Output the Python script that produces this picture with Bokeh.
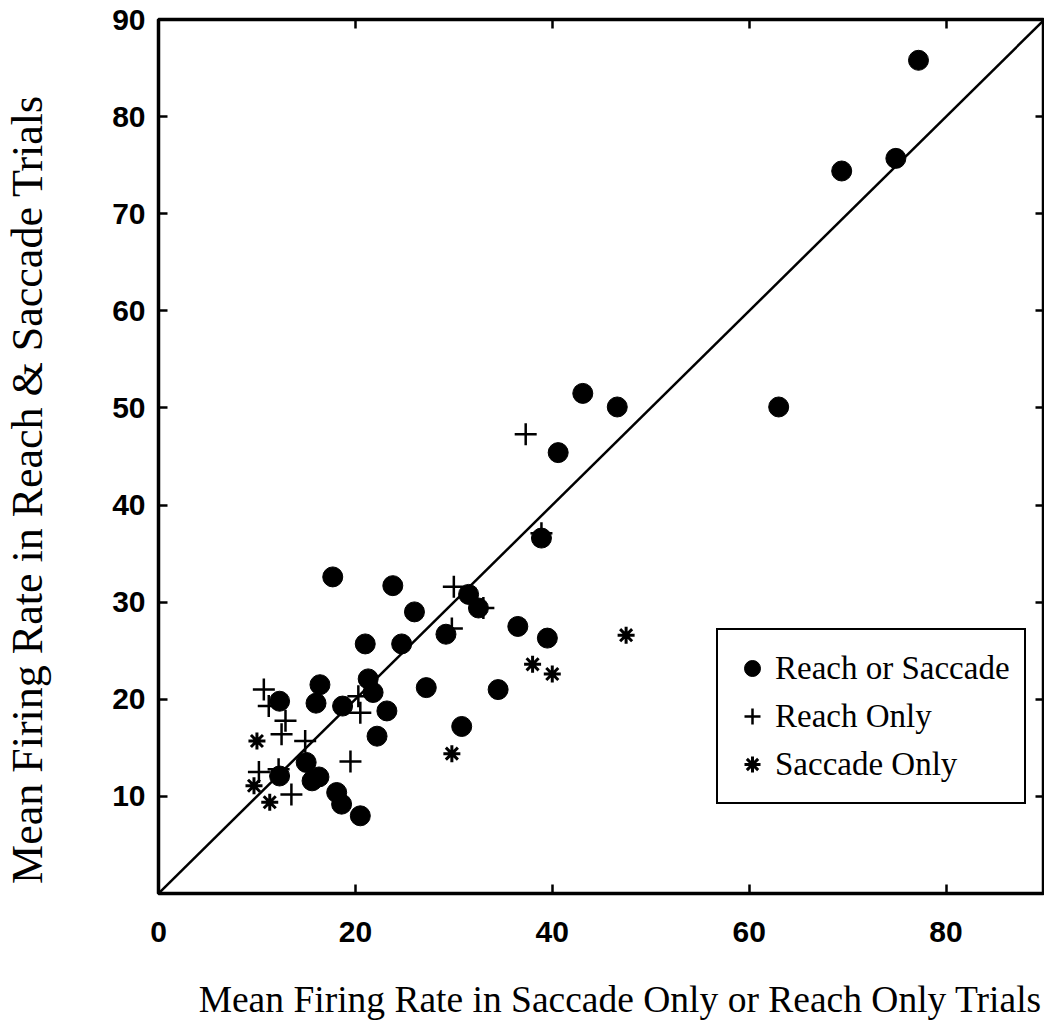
from bokeh.plotting import figure
from bokeh.models import (LinearAxis, FixedTicker, CustomJSTickFormatter, Legend,
                          LegendItem, Range1d)
from bokeh.embed import file_html
from bokeh.resources import INLINE

# ---- data ----
either_x = [77.2, 69.4, 74.9, 63.0, 43.1, 46.6, 40.6, 38.9, 17.7, 23.8, 26.0, 31.5,
            32.5, 29.2, 21.0, 24.7, 21.3, 21.8, 16.4, 16.0, 12.3, 18.7, 23.2, 22.2,
            27.2, 34.5, 30.8, 36.5, 39.5, 15.0, 15.6, 16.3, 12.3, 18.1, 18.6, 20.5]
either_y = [85.8, 74.4, 75.7, 50.1, 51.5, 50.1, 45.4, 36.6, 32.6, 31.7, 29.0, 30.8,
            29.4, 26.7, 25.7, 25.7, 22.1, 20.7, 21.5, 19.6, 19.8, 19.3, 18.8, 16.2,
            21.2, 21.0, 17.2, 27.5, 26.3, 13.5, 11.6, 12.0, 12.1, 10.4, 9.2, 8.0]

reach_x = [37.3, 38.9, 30.0, 33.0, 29.8, 20.3, 20.5, 19.5, 10.7, 11.2, 12.9, 12.5,
           14.9, 10.2, 12.2, 13.5]
reach_y = [47.3, 37.1, 31.6, 29.4, 27.3, 20.3, 18.6, 13.6, 21.0, 19.3, 17.8, 16.4,
           15.7, 12.5, 12.8, 10.2]

sacc_x = [47.5, 38.0, 40.0, 29.8, 10.0, 9.7, 11.3]
sacc_y = [26.6, 23.6, 22.6, 14.4, 15.7, 11.1, 9.4]

unity = [0, 90]
x_ticks = [0, 20, 40, 60, 80]
y_ticks = [10, 20, 30, 40, 50, 60, 70, 80, 90]

series_labels = ["Reach or Saccade", "Reach Only", "Saccade Only"]
x_label = "Mean Firing Rate in Saccade Only or Reach Only Trials"
y_label = "Mean Firing Rate in Reach & Saccade Trials"

NBSP = "\u00a0"

# ---- figure ----
p = figure(frame_width=886, frame_height=874,
           x_range=Range1d(0, 90), y_range=Range1d(0, 90),
           min_border_left=157, min_border_top=19, min_border_right=0,
           min_border_bottom=132,
           output_backend="svg", toolbar_location=None,
           background_fill_color="white", border_fill_color="white")
p.grid.visible = False
p.outline_line_color = "black"
p.outline_line_width = 3.5
p.outline_line_alpha = 1.0

tick_font = "Liberation Sans"
lbl_font = "Liberation Serif"

def style_axis(ax):
    ax.major_tick_in = 9
    ax.major_tick_out = 0
    ax.minor_tick_in = 0
    ax.minor_tick_out = 0
    ax.major_tick_line_width = 2.5
    ax.major_tick_line_color = "black"
    ax.axis_line_color = None
    ax.major_label_text_font = tick_font
    ax.major_label_text_font_style = "bold"
    ax.major_label_text_font_size = "30px"
    ax.major_label_text_color = "black"
    ax.axis_label_text_font = lbl_font
    ax.axis_label_text_font_style = "normal"
    ax.axis_label_text_color = "black"

xa = p.xaxis[0]
ya = p.yaxis[0]
xa.ticker = FixedTicker(ticks=x_ticks)
ya.ticker = FixedTicker(ticks=y_ticks)
style_axis(xa)
style_axis(ya)
xa.major_label_standoff = 28
ya.major_label_standoff = 13

# the reference's axis titles sit a little off-centre; pad with no-break spaces
xa.axis_label = NBSP * 4 + x_label
ya.axis_label = y_label + NBSP * 6
xa.axis_label_text_font_size = "37.5px"
ya.axis_label_text_font_size = "44px"
xa.axis_label_standoff = 34
ya.axis_label_standoff = 57

blank = CustomJSTickFormatter(code="return ''")
top = LinearAxis(ticker=FixedTicker(ticks=x_ticks), formatter=blank, major_label_standoff=0)
right = LinearAxis(ticker=FixedTicker(ticks=y_ticks), formatter=blank, major_label_standoff=0)
style_axis(top)
style_axis(right)
p.add_layout(top, "above")
p.add_layout(right, "right")

# ---- glyphs ----
p.line(x=unity, y=unity, line_color="black", line_width=2.5)

r_plus = p.scatter(x=reach_x, y=reach_y, marker="cross", size=22,
                   line_color="black", line_width=2.5)
r_star = p.scatter(x=sacc_x, y=sacc_y, marker="asterisk", size=17,
                   line_color="black", line_width=3)
r_circ = p.scatter(x=either_x, y=either_y, marker="circle", size=20,
                   fill_color="black", line_color="black", line_width=1)

legend = Legend(items=[LegendItem(label=series_labels[0], renderers=[r_circ]),
                       LegendItem(label=series_labels[1], renderers=[r_plus]),
                       LegendItem(label=series_labels[2], renderers=[r_star])],
                location=(558, 89))
legend.border_line_color = "black"
legend.border_line_width = 2
legend.border_line_alpha = 1
legend.background_fill_color = "white"
legend.background_fill_alpha = 1
legend.label_text_font = lbl_font
legend.label_text_font_size = "33px"
legend.label_text_color = "black"
legend.glyph_width = 40
legend.glyph_height = 48
legend.label_height = 48
legend.spacing = 0
legend.padding = 14
legend.label_standoff = 3
legend.margin = 0
p.add_layout(legend)

open("out.html", "w").write(file_html(p, INLINE))
